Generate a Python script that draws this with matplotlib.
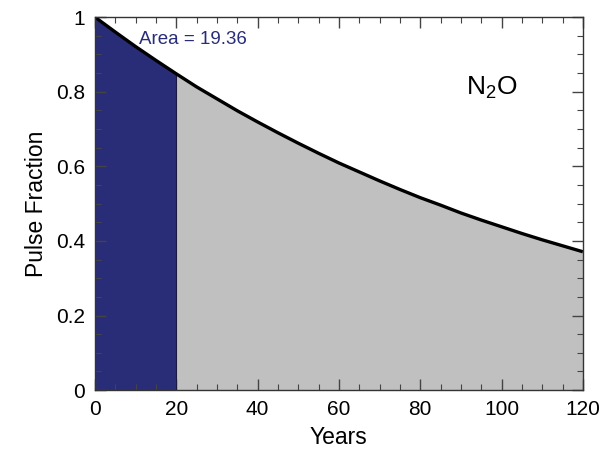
import numpy as np
import matplotlib
matplotlib.use("Agg")
import matplotlib.pyplot as plt
from matplotlib.ticker import MultipleLocator

# pulse fraction, every 5 years
years = [0, 5, 10, 15, 20, 25, 30, 35, 40, 45, 50, 55, 60,
         65, 70, 75, 80, 85, 90, 95, 100, 105, 110, 115, 120]
fraction = [1.000, 0.960, 0.921, 0.884, 0.848, 0.813, 0.781, 0.749, 0.719,
            0.690, 0.662, 0.635, 0.609, 0.585, 0.561, 0.538, 0.516, 0.496,
            0.475, 0.456, 0.438, 0.420, 0.403, 0.387, 0.371]
horizon = 20
area_label = "Area = 19.36"
gas_label = r"N$_{2}$O"

plt.rcParams['font.family'] = ['Liberation Sans', 'DejaVu Sans']
plt.rcParams['mathtext.fontset'] = 'custom'
plt.rcParams['mathtext.rm'] = 'Liberation Sans'

navy = '#292d78'
grey = '#c0c0c0'

t = np.array(years)
f = np.array(fraction)

fig = plt.figure(figsize=(5.99, 4.51), dpi=100)
ax = fig.add_axes([0.1586, 0.135, 0.8144, 0.827])

inside = t <= horizon
ax.fill_between(t[inside], 0, f[inside], color=navy, linewidth=0)
ax.fill_between(t[t >= horizon], 0, f[t >= horizon], color=grey, linewidth=0)
ax.plot([horizon, horizon], [0, f[t == horizon][0]], color='#1a1a40', linewidth=0.8)
ax.plot(t, f, color='black', linewidth=2.4, solid_capstyle='butt')

ax.text(10.8, 0.94, area_label, color=navy, fontsize=13.5, ha='left', va='center')
ax.text(97.5, 0.81, gas_label, color='black', fontsize=19, ha='center', va='center')

ax.set_xlim(0, 120)
ax.set_ylim(0, 1)
ax.xaxis.set_major_locator(MultipleLocator(20))
ax.xaxis.set_minor_locator(MultipleLocator(5))
ax.yaxis.set_major_locator(MultipleLocator(0.2))
ax.yaxis.set_minor_locator(MultipleLocator(0.05))
ax.set_yticks([0, 0.2, 0.4, 0.6, 0.8, 1])
ax.set_yticklabels(['0', '0.2', '0.4', '0.6', '0.8', '1'])
ax.tick_params(which='both', direction='in', top=True, right=True,
               labelsize=15, color='#444444')
ax.tick_params(which='major', length=8, width=1.0, pad=7)
ax.tick_params(which='minor', length=4, width=0.8)
for s in ax.spines.values():
    s.set_linewidth(1.0)
    s.set_color('#333333')

ax.set_xlabel("Years", fontsize=16.5, labelpad=5)
ax.set_ylabel("Pulse Fraction", fontsize=16.5, labelpad=6)

fig.savefig("out.png", dpi=100)
